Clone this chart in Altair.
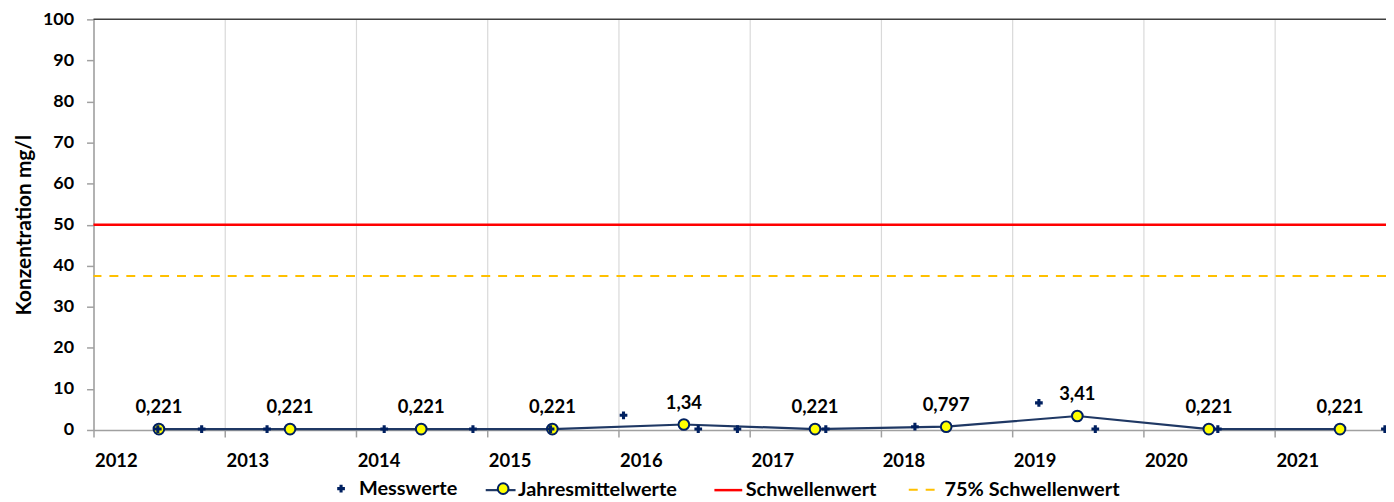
import altair as alt
import pandas as pd

# ---- data ----
mess_dates = ["2012-06-28", "2012-10-28", "2013-04-28", "2014-03-20", "2014-11-22",
              "2015-06-26", "2016-01-15", "2016-08-10", "2016-11-27", "2017-07-31",
              "2018-04-05", "2019-03-16", "2019-08-20", "2020-07-26", "2021-11-03"]
mess_values = [0.221, 0.221, 0.221, 0.221, 0.221,
               0.221, 3.58, 0.221, 0.221, 0.221,
               0.797, 6.6, 0.221, 0.221, 0.221]

jm_dates = ["2012-07-01", "2013-07-01", "2014-07-01", "2015-07-01", "2016-07-01",
            "2017-07-01", "2018-07-01", "2019-07-01", "2020-07-01", "2021-07-01"]
jm_values = [0.221, 0.221, 0.221, 0.221, 1.34, 0.221, 0.797, 3.41, 0.221, 0.221]
jm_labels = ["0,221", "0,221", "0,221", "0,221", "1,34", "0,221", "0,797", "3,41", "0,221", "0,221"]

schwelle = 50
schwelle75 = 37.5
years = list(range(2012, 2022))

FONT = "Lato"
NAVY = "#002060"
LINE = "#1F3864"

mess = pd.DataFrame({"date": mess_dates, "value": mess_values, "s_mess": "Messwerte"})
jm = pd.DataFrame({"date": jm_dates, "value": jm_values, "label": jm_labels,
                   "s_line": "Jahresmittelwerte", "s_circ": "Jahresmittelwerte "})
thr = pd.DataFrame({"value": [schwelle], "s_red": ["Schwellenwert"]})
thr75 = pd.DataFrame({"value": [schwelle75], "s_or": ["75% Schwellenwert"]})
topline = pd.DataFrame({"value": [100]})

xscale = alt.Scale(type="utc",
                   domain=[alt.DateTime(year=2012, month=1, date=1, utc=True),
                           alt.DateTime(year=2021, month=11, date=6, utc=True)])
yscale = alt.Scale(domain=[0, 100], nice=False)

xaxis = alt.Axis(values=[alt.DateTime(year=y, month=1, date=1, utc=True) for y in years],
                 format="%Y", title=None, labelAlign="left", labelOffset=1,
                 labelFont=FONT, labelFontSize=18.5, labelFontWeight="bold", labelColor="black",
                 labelPadding=15, grid=True, gridColor="#D9D9D9", gridWidth=1.2,
                 domainColor="#A0A0A0", domainWidth=1.5, tickColor="#A0A0A0", tickSize=7,
                 tickWidth=1.5)
yaxis = alt.Axis(values=list(range(0, 101, 10)), title="Konzentration mg/l",
                 titleFont=FONT, titleFontSize=21, titleFontWeight="bold", titleColor="black",
                 titlePadding=8,
                 labelFont=FONT, labelFontSize=18, labelFontWeight="bold", labelColor="black",
                 labelPadding=13, grid=False, domainColor="#A0A0A0", domainWidth=1.5,
                 tickColor="#A0A0A0", tickSize=7, tickWidth=1.5)

X = alt.X("date:T", scale=xscale, axis=xaxis)
Y = alt.Y("value:Q", scale=yscale, axis=yaxis)

LEGC = 472  # legend row centre, relative to the plot top
LFS = 20

def leg(x, h, **kw):
    base = dict(orient="none", legendX=x, legendY=LEGC - h / 2, title=None, direction="horizontal",
                padding=0, labelFont=FONT, labelFontSize=LFS, labelFontWeight="bold",
                labelColor="black", labelLimit=400)
    base.update(kw)
    return alt.Legend(**base)

top = alt.Chart(topline).mark_rule(color="#404040", strokeWidth=1.5).encode(y=Y)

red = alt.Chart(thr).mark_rule(strokeWidth=2.5).encode(
    y=Y,
    color=alt.Color("s_red:N", scale=alt.Scale(domain=["Schwellenwert"], range=["#FF0000"]),
                    legend=leg(623, 28, symbolType="stroke", symbolSize=784, symbolStrokeWidth=2.5,
                               symbolStrokeColor="#FF0000", labelOffset=2)))

orange = alt.Chart(thr75).mark_rule(strokeWidth=2, color="#FFC000").encode(
    y=Y,
    strokeDash=alt.StrokeDash("s_or:N", scale=alt.Scale(domain=["75% Schwellenwert"], range=[[9, 8]]),
                              legend=leg(819, 27, symbolType="stroke", symbolSize=729,
                                         symbolStrokeWidth=2, symbolStrokeColor="#FFC000",
                                         labelOffset=8)))

line = alt.Chart(jm).mark_line(strokeWidth=2.2).encode(
    x=X, y=Y,
    stroke=alt.Stroke("s_line:N", scale=alt.Scale(domain=["Jahresmittelwerte"], range=[LINE]),
                      legend=leg(393, 30, symbolType="stroke", symbolSize=900, symbolStrokeWidth=2.2,
                                 symbolStrokeColor=LINE, labelOffset=1)))

circles = alt.Chart(jm).mark_point(filled=True, size=115, stroke=NAVY, strokeWidth=2,
                                   shape="circle", opacity=1).encode(
    x=X, y=Y,
    fill=alt.Fill("s_circ:N", scale=alt.Scale(domain=["Jahresmittelwerte "], range=["#FFFF00"]),
                  legend=leg(402, LFS, symbolType="circle", symbolSize=115, symbolStrokeColor=NAVY,
                             symbolFillColor="#FFFF00", symbolStrokeWidth=2, labelOpacity=0)))

crosses = alt.Chart(mess).mark_point(filled=True, size=60, color=NAVY, opacity=1).encode(
    x=X, y=Y,
    shape=alt.Shape("s_mess:N", scale=alt.Scale(domain=["Messwerte"], range=["cross"]),
                    legend=leg(239, LFS, symbolSize=60, symbolFillColor=NAVY, symbolStrokeWidth=0,
                               labelOffset=8)))

labels = alt.Chart(jm).mark_text(font=FONT, fontSize=18.5, fontWeight="bold", color="black",
                                 baseline="alphabetic", dy=-16).encode(
    x=X, y=Y, text="label:N")

chart = alt.layer(top, red, orange, line, circles, crosses, labels).properties(
    width=1300, height=413,
    autosize=alt.AutoSizeParams(type="none"),
    padding={"left": 86, "top": 10, "right": 0, "bottom": 70},
).configure_view(stroke=None)

chart.save("out.html", embed_options={"renderer": "svg", "actions": False})
